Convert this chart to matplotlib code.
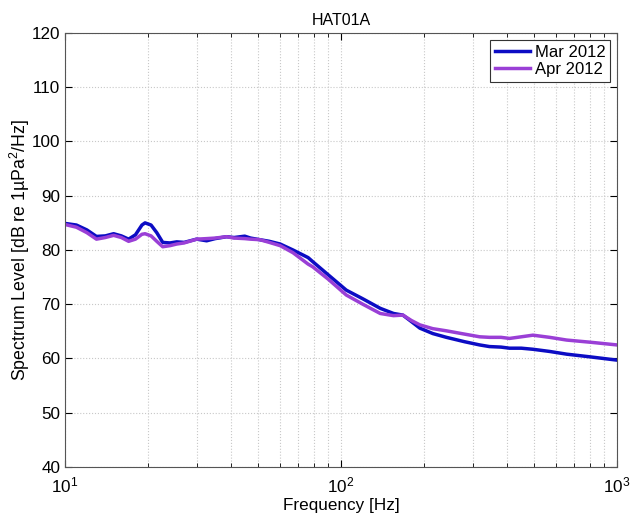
import numpy as np
import matplotlib.pyplot as plt
from matplotlib.ticker import LogLocator, NullFormatter

plt.rcParams['font.family'] = ['Liberation Sans', 'DejaVu Sans']
plt.rcParams['mathtext.fontset'] = 'custom'
plt.rcParams['mathtext.rm'] = 'Liberation Sans'
plt.rcParams['mathtext.it'] = 'Liberation Sans:italic'

# Monthly mean spectrum levels (dB re 1 uPa^2/Hz)
freq_mar = [10, 11, 12, 13, 14, 15, 16, 17, 18, 19, 19.5, 20.5, 21.5, 22.6, 24, 25.4,
            27, 30, 32.6, 35, 38.5, 41, 44.8, 47, 50.8, 55, 60.2, 67, 76, 79, 90,
            104.5, 120, 138.7, 155, 167.6, 180, 193, 215, 241, 280, 318, 345, 380,
            408, 450, 496, 570, 657, 800, 1000]
level_mar = [84.9, 84.6, 83.7, 82.5, 82.6, 83.0, 82.6, 82.0, 82.8, 84.6, 85.0, 84.6, 83.2,
             81.4, 81.3, 81.5, 81.4, 82.0, 81.7, 82.1, 82.45, 82.3, 82.55, 82.2, 81.9,
             81.6, 81.1, 80.0, 78.6, 77.85, 75.4, 72.6, 71.0, 69.25, 68.3, 68.0, 66.8,
             65.6, 64.6, 63.9, 63.1, 62.5, 62.2, 62.1, 61.9, 61.9, 61.7, 61.3, 60.8,
             60.3, 59.7]

freq_apr = [10, 11, 12, 13, 14, 15, 16, 17, 18, 19, 19.5, 20.5, 21.5, 22.6, 24, 25.4,
            27, 30, 32.6, 35, 38.5, 41, 44.8, 47, 50.8, 55, 60.2, 67, 76, 79, 90,
            104.5, 120, 138.7, 155, 167.6, 180, 193, 215, 241, 280, 318, 345, 380,
            408, 450, 496, 570, 657, 800, 1000]
level_apr = [84.7, 84.2, 83.2, 82.0, 82.3, 82.7, 82.3, 81.6, 82.0, 82.9, 83.0, 82.6, 81.6,
             80.6, 80.8, 81.1, 81.3, 82.0, 82.1, 82.2, 82.45, 82.2, 82.1, 82.0, 81.9,
             81.4, 80.8, 79.5, 77.4, 76.9, 74.6, 71.7, 70.0, 68.3, 67.9, 68.0, 67.0,
             66.2, 65.5, 65.1, 64.5, 64.0, 63.9, 63.9, 63.7, 64.0, 64.3, 63.9, 63.4,
             63.0, 62.5]

fig = plt.figure(figsize=(6.31, 5.22), dpi=100)
ax = fig.add_axes([65 / 631, 1 - 467 / 522, (617 - 65) / 631, (467 - 33) / 522])

ax.semilogx(freq_mar, level_mar, color='#0c0cc4', lw=2.5, label='Mar 2012')
ax.semilogx(freq_apr, level_apr, color='#9a3fd6', lw=2.5, label='Apr 2012')

ax.set_xlim(10, 1000)
ax.set_ylim(40, 120)
ax.set_yticks(np.arange(40, 121, 10))
ax.xaxis.set_major_locator(LogLocator(base=10))
ax.xaxis.set_minor_locator(LogLocator(base=10, subs=np.arange(2, 10)))
ax.xaxis.set_minor_formatter(NullFormatter())

ax.grid(True, which='major', color='#c8c8c8', ls=':', lw=0.8)
ax.grid(True, which='minor', axis='x', color='#c8c8c8', ls=':', lw=0.8)
ax.tick_params(which='both', direction='in', top=True, right=True, labelsize=12.3)
ax.tick_params(which='major', length=5)
ax.tick_params(which='minor', length=3)
ax.tick_params(axis='x', which='major', pad=6)
for sp in ax.spines.values():
    sp.set_color('#555555')
    sp.set_linewidth(0.8)

ax.set_title('HAT01A', fontsize=11.5)
ax.set_xlabel('Frequency [Hz]', fontsize=12.3, labelpad=2)
ax.set_ylabel('Spectrum Level [dB re 1µPa$^2$/Hz]', fontsize=12.8, labelpad=0)

leg = ax.legend(loc='upper right', fontsize=12, fancybox=False, framealpha=1,
                handlelength=2.1, handletextpad=0.3, borderpad=0.3, labelspacing=0.15,
                borderaxespad=0.4)
leg.get_frame().set_edgecolor('#333333')
leg.get_frame().set_linewidth(0.8)

fig.savefig('out.png', dpi=100)
